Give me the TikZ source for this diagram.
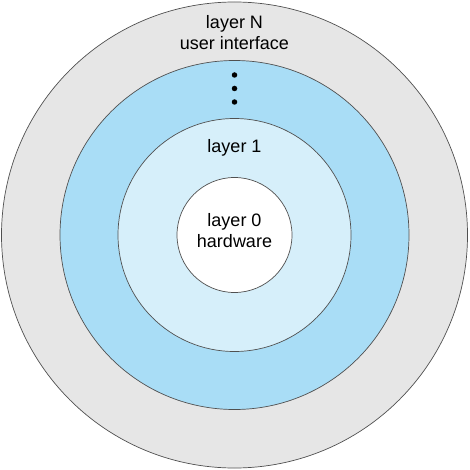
\documentclass[tikz,border=0pt]{standalone}
\usepackage{fontspec}
\setmainfont{Liberation Sans}
\definecolor{ringgray}{HTML}{E6E6E6}
\definecolor{ringblue}{HTML}{A9DDF6}
\definecolor{ringlight}{HTML}{D6EFFA}
\definecolor{edge}{HTML}{505050}
\begin{document}
\begin{tikzpicture}[x=1pt,y=-1pt,
  ring/.style={draw=edge,line width=0.7pt},
  lbl/.style={font=\fontsize{18}{21}\selectfont,align=center,inner sep=0pt},
  dot/.style={circle,fill=black,inner sep=0pt,minimum size=5.5pt}]
\useasboundingbox (0,0) rectangle (469,470);
\coordinate (c) at (234.5,235);
\fill[ring,fill=ringgray] (c) circle (233);
\fill[ring,fill=ringblue] (c) circle (174.5);
\fill[ring,fill=ringlight] (c) circle (116.5);
\fill[ring,fill=white] (c) circle (57.5);
\node[lbl] (ln) at (234.5,33) {layer N\\user interface};
\node[dot] (d1) at (234.5,75) {};
\node[dot] (d2) at (234.5,88.5) {};
\node[dot] (d3) at (234.5,102) {};
\node[lbl] (l1) at (234.5,148) {layer 1};
\node[lbl] (l0) at (234.5,231) {layer 0\\hardware};
\end{tikzpicture}
\end{document}
